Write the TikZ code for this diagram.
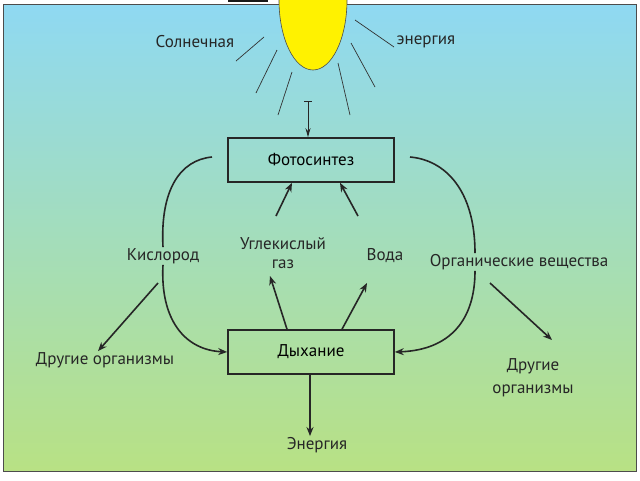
\documentclass[tikz,border=0pt]{standalone}
\usepackage{fontspec}
\setmainfont{PT Sans}
\usetikzlibrary{arrows.meta}
\definecolor{skyb}{HTML}{8FD9F2}
\definecolor{grnb}{HTML}{B8E184}
\definecolor{sunY}{HTML}{FFF200}
\begin{document}
\begin{tikzpicture}[x=1pt,y=-1pt,
  lbl/.style={font=\fontsize{17}{19}\selectfont, text=black!85, inner sep=1pt, align=center},
  box/.style={draw=black!85, line width=1.6pt, minimum width=166pt, minimum height=44pt, font=\fontsize{17}{19}\selectfont},
  ray/.style={black!80, line width=0.7pt},
  con/.style={black!85, line width=1.6pt},
  arr/.style={con, -{Stealth[length=9pt,width=7pt]}}]
\useasboundingbox (0,0) rectangle (640,480);
\fill[white] (0,0) rectangle (640,480);
\shade[top color=skyb, bottom color=grnb, draw=black!70, line width=0.6pt] (3,4) rectangle (636,471);
\draw[black!90, line width=1.2pt] (228,1) -- (268,1);
% sun
\begin{scope}
\clip (200,0) rectangle (420,100);
\fill[sunY, draw=black!70, line width=0.6pt] (313,0) ellipse [x radius=34, y radius=70];
\end{scope}
\draw[ray] (264,37) -- (236,61);
\draw[ray] (277,50) -- (256,93);
\draw[ray] (292,72) -- (278,115);
\draw[ray] (355,20) -- (394,47);
\draw[ray] (351,43) -- (375,87);
\draw[ray] (338,63) -- (350,115);
\node[lbl] (sol) at (195,42) {Солнечная};
\node[lbl] (en) at (426,42) {энергия};
\node[box] (ph) at (311,160) {Фотосинтез};
\node[box] (dy) at (311,352) {Дыхание};
\coordinate (t) at (308,101);
\draw[black!85, line width=1pt] (304,101) -- (312,101);
\draw[con, line width=1pt, -{Stealth[length=9pt,width=5pt]}] (t) -- (ph.north -| t);
\node[lbl] (kis) at (163,256) {Кислород};
\node[lbl] (co2) at (283,253) {Углекислый\\газ};
\node[lbl] (vod) at (385,256) {Вода};
\node[lbl] (org) at (519,262) {Органические вещества};
\node[lbl] (dl) at (105,360) {Другие организмы};
\node[lbl] (dr) at (533,378) {Другие\\[4pt]организмы};
\node[lbl] (ene) at (317,445) {Энергия};
% cycle curves
\draw[con] (212,157) .. controls (180,160) and (160,190) .. (kis.north);
\draw[arr] (kis.south) .. controls (160,320) and (185,350) .. (dy.west);
\draw[con] (410,157) .. controls (445,160) and (475,190) .. (org.north -| 475,0);
\draw[arr] (org.south -| 475,0) .. controls (475,320) and (450,350) .. (dy.east);
% branches
\draw[arr] (158,283) -- (dl.north -| 98,0);
\draw[arr] (490,283) -- (552,340);
\draw[arr] (dy.north -| 287,0) -- (270,276);
\draw[arr] (dy.north -| 342,0) -- (367,283);
\draw[arr] (276,216) -- (ph.south -| 292,0);
\draw[arr] (358,216) -- (ph.south -| 340,0);
\draw[arr] (dy.south -| 310,0) -- (ene.north -| 310,0);
\end{tikzpicture}
\end{document}
